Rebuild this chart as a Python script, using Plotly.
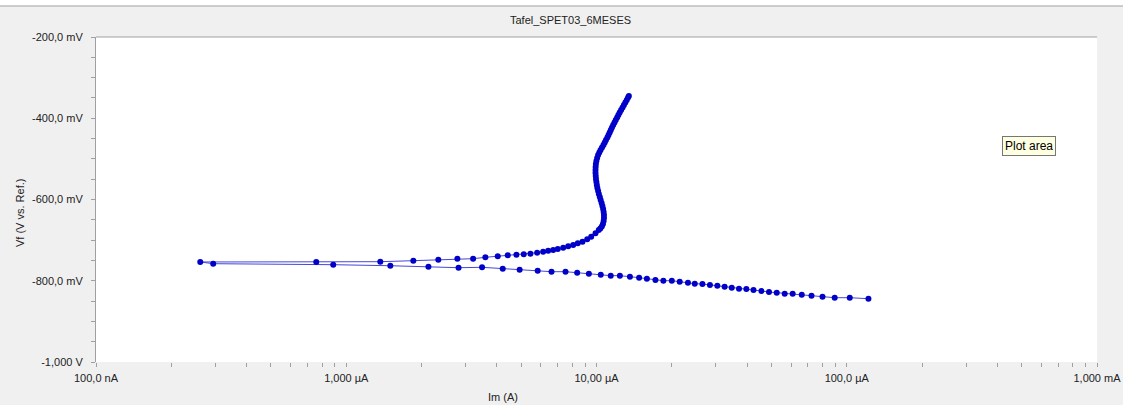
import plotly.graph_objects as go

# Tafel scan: cathodic branch (from high current toward Ecorr), then anodic branch
cathodic_current_uA = [
    122.1, 102.8, 89.5, 80.0, 72.3, 66.1, 60.8, 56.5, 52.5, 48.9,
    45.6, 42.4, 39.7, 37.1, 34.7, 32.5, 30.4, 28.4, 26.5, 24.7,
    23.2, 21.5, 20.0, 18.5, 17.2, 15.9, 14.8, 13.6, 12.4, 11.4,
    10.4, 9.32, 8.37, 7.52, 6.61, 5.82, 4.93, 4.22, 3.49, 2.81,
    2.13, 1.50, 0.887, 0.294,
]
cathodic_potential_mV = [
    -844.2, -841.7, -841.7, -839.3, -836.8, -834.3, -831.9, -831.9, -829.4, -827.7,
    -825.2, -822.8, -820.3, -819.5, -817.1, -814.6, -812.2, -810.5, -808.0, -807.3,
    -804.8, -802.3, -799.9, -799.9, -798.2, -794.9, -792.4, -790.0, -787.5, -787.5,
    -785.1, -782.6, -780.2, -777.7, -777.7, -775.3, -772.8, -770.3, -766.9, -767.9,
    -765.4, -763.0, -760.5, -758.0,
]

anodic_current_uA = [
    0.261, 0.759, 1.368, 1.854, 2.333, 2.780, 3.213, 3.597, 4.030, 4.418,
    4.786, 5.120, 5.445, 5.792, 6.121, 6.410, 6.712, 7.003, 7.360, 7.706,
    8.069, 8.418, 8.790, 9.180, 9.524, 9.908, 10.21,
    10.36, 10.50, 10.61, 10.68, 10.71, 10.71, 10.68, 10.63, 10.56, 10.48,
    10.39, 10.31, 10.22, 10.15, 10.08, 10.03, 9.99, 9.95, 9.93, 9.91,
    9.91, 9.92, 9.94, 9.99, 10.06, 10.15, 10.26, 10.38, 10.52, 10.66,
    10.79, 10.91, 11.05, 11.17, 11.29, 11.41, 11.53, 11.66, 11.80, 11.94,
    12.09, 12.23, 12.38, 12.54, 12.71, 12.87, 13.04, 13.21, 13.37, 13.47,
]
anodic_potential_mV = [
    -753.8, -753.8, -753.1, -750.6, -748.2, -745.7, -745.7, -742.3, -739.8, -737.3,
    -735.9, -734.9, -733.4, -731.0, -728.5, -726.1, -724.3, -721.9, -718.7, -715.2,
    -712.0, -707.8, -703.9, -698.0, -691.6, -683.2, -675.1,
    -671.4, -666.5, -660.3, -652.9, -645.5, -638.2, -630.8, -623.4, -616.0, -608.6,
    -601.2, -593.8, -586.5, -579.1, -571.7, -564.3, -556.9, -549.5, -542.2, -534.8,
    -527.4, -520.0, -512.6, -505.2, -497.8, -490.5, -484.3, -478.2, -472.0, -465.7,
    -459.7, -453.5, -447.4, -441.2, -435.1, -428.9, -422.8, -416.6, -410.5, -404.3,
    -398.2, -392.0, -385.8, -379.7, -373.5, -367.4, -361.2, -355.1, -348.9, -345.2,
]

# Axis ticks
x_decades_uA = [0.1, 1, 10, 100, 1000]
x_decade_labels = ["100,0 nA", "1,000 µA", "10,00 µA", "100,0 µA", "1,000 mA"]
y_major_mV = [-200, -400, -600, -800, -1000]
y_major_labels = ["-200,0 mV", "-400,0 mV", "-600,0 mV", "-800,0 mV", "-1,000 V"]

title_text = "Tafel_SPET03_6MESES"
x_title = "Im (A)"
y_title = "Vf (V vs. Ref.)"

# Build tick sets: log minor ticks at 2..9 per decade, potential ticks every 50 mV
x_tickvals, x_ticktext = [], []
for i, d in enumerate(x_decades_uA):
    x_tickvals.append(d)
    x_ticktext.append(x_decade_labels[i])
    if i < len(x_decades_uA) - 1:
        for m in range(2, 10):
            x_tickvals.append(d * m)
            x_ticktext.append("")

y_tickvals, y_ticktext = [], []
for v in range(-1000, -199, 50):
    y_tickvals.append(v)
    y_ticktext.append(y_major_labels[y_major_mV.index(v)] if v in y_major_mV else "")

current = cathodic_current_uA + anodic_current_uA
potential = cathodic_potential_mV + anodic_potential_mV

FONT = "Liberation Sans, Arial, sans-serif"
GREY = "#a0a0a0"
TXT = "#222222"

fig = go.Figure(
    go.Scatter(
        x=current,
        y=potential,
        mode="lines+markers",
        line=dict(color="#4646d8", width=1),
        marker=dict(color="#0000C8", size=6, line=dict(width=0)),
        showlegend=False,
        hoverinfo="skip",
    )
)

fig.update_layout(
    width=1123,
    height=405,
    margin=dict(l=96, r=26, t=37, b=43),
    paper_bgcolor="#f0f0f0",
    plot_bgcolor="white",
    font=dict(family=FONT, size=11, color=TXT),
    xaxis=dict(
        type="log",
        range=[-1, 3],
        tickmode="array",
        tickvals=x_tickvals,
        ticktext=x_ticktext,
        ticks="outside",
        ticklen=4,
        tickcolor=GREY,
        showgrid=False,
        zeroline=False,
        showline=False,
        automargin=False,
        ticklabelstandoff=2,
        tickfont=dict(family=FONT, size=11, color=TXT),
    ),
    yaxis=dict(
        range=[-1000, -200],
        tickmode="array",
        tickvals=y_tickvals,
        ticktext=y_ticktext,
        ticks="outside",
        ticklen=4,
        tickcolor=GREY,
        showgrid=False,
        zeroline=False,
        showline=True,
        linecolor=GREY,
        linewidth=1,
        automargin=False,
        ticklabelstandoff=6,
        tickfont=dict(family=FONT, size=11, color=TXT),
    ),
    shapes=[
        # top edge of the plotting area
        dict(type="line", xref="paper", yref="paper", x0=0, x1=1, y0=1, y1=1,
             line=dict(color=GREY, width=1)),
        # white strip and separator line along the top of the window
        dict(type="rect", xref="paper", yref="paper", x0=-0.2, x1=1.1,
             y0=1.0954, y1=1.13, fillcolor="white", line=dict(width=0)),
        dict(type="line", xref="paper", yref="paper", x0=-0.2, x1=1.1,
             y0=1.0954, y1=1.0954, line=dict(color=GREY, width=1)),
    ],
    annotations=[
        dict(text=title_text, xref="paper", yref="paper", x=0.4745, y=1.0523,
             xanchor="center", yanchor="middle", showarrow=False,
             font=dict(family=FONT, size=11, color=TXT)),
        dict(text=x_title, xref="paper", yref="paper", x=0.4066, y=-0.1077,
             xanchor="center", yanchor="middle", showarrow=False,
             font=dict(family=FONT, size=11, color=TXT)),
        dict(text=y_title, xref="paper", yref="paper", x=-0.0759, y=0.4585,
             xanchor="center", yanchor="middle", textangle=-90, showarrow=False,
             font=dict(family=FONT, size=11, color=TXT)),
        dict(text="Plot area", xref="paper", yref="paper", x=0.9316, y=0.6646,
             xanchor="center", yanchor="middle", showarrow=False,
             bgcolor="#ffffe1", bordercolor="#767676",
             borderwidth=1, borderpad=2,
             font=dict(family=FONT, size=12, color="black")),
    ],
)

fig.write_html("out.html")
